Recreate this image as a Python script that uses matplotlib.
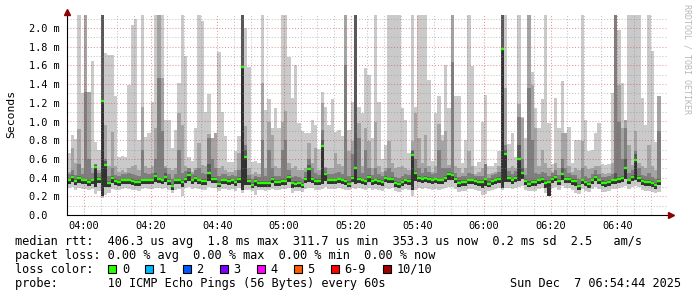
import matplotlib
matplotlib.use("Agg")
import matplotlib.pyplot as plt
from matplotlib.patches import Rectangle
import numpy as np

# smokeping: 10 pings every 60s, one column per minute starting 03:55
# (graph window 03:54:44 .. 06:54:44), values in ms
first_col = "03:55"
win_start = (3, 54, 44)

median_ms = [
    0.37, 0.41, 0.36, 0.40, 0.37, 0.37, 0.35, 0.37, 0.51, 0.39, 1.22, 0.53, 0.34, 0.40, 0.36, 0.35, 0.37, 0.37, 0.37, 0.36,
    0.35, 0.35, 0.37, 0.37, 0.37, 0.37, 0.42, 0.38, 0.37, 0.41, 0.36, 0.31, 0.37, 0.37, 0.35, 0.39, 0.43, 0.37, 0.40, 0.37,
    0.36, 0.36, 0.45, 0.385, 0.385, 0.335, 0.37, 0.37, 0.36, 0.37, 0.35, 0.385, 1.58, 0.62, 0.36, 0.32, 0.36, 0.34, 0.34, 0.34,
    0.34, 0.385, 0.35, 0.35, 0.36, 0.36, 0.41, 0.34, 0.335, 0.34, 0.32, 0.39, 0.49, 0.385, 0.36, 0.36, 0.74, 0.44, 0.37, 0.37,
    0.37, 0.38, 0.37, 0.36, 0.335, 0.40, 0.50, 0.39, 0.37, 0.36, 0.41, 0.36, 0.37, 0.36, 0.35, 0.40, 0.38, 0.39, 0.34, 0.33,
    0.35, 0.37, 0.36, 0.645, 0.445, 0.40, 0.38, 0.40, 0.39, 0.37, 0.38, 0.37, 0.37, 0.40, 0.44, 0.43, 0.385, 0.345, 0.35, 0.35,
    0.37, 0.37, 0.36, 0.35, 0.35, 0.38, 0.335, 0.36, 0.37, 0.39, 1.775, 0.655, 0.40, 0.37, 0.40, 0.60, 0.45, 0.36, 0.335, 0.35,
    0.35, 0.37, 0.39, 0.345, 0.35, 0.385, 0.41, 0.36, 0.44, 0.385, 0.385, 0.36, 0.36, 0.31, 0.37, 0.35, 0.33, 0.37, 0.41, 0.37,
    0.345, 0.34, 0.35, 0.37, 0.375, 0.39, 0.40, 0.50, 0.37, 0.41, 0.585, 0.40, 0.36, 0.35, 0.35, 0.34, 0.32, 0.36,
]

# smoke: highest ping (lightest band)
top_ms = [
    0.66, 0.86, 0.81, 2.14, 1.31, 2.14, 1.32, 1.65, 0.78, 0.70, 2.14, 1.73, 1.71, 1.71, 1.27, 0.62, 0.63, 0.62, 1.39, 2.03,
    2.10, 0.80, 2.14, 0.83, 0.88, 1.21, 2.14, 2.14, 2.14, 1.02, 1.02, 0.72, 0.91, 1.41, 2.14, 1.70, 0.62, 0.58, 0.93, 2.14,
    2.08, 1.10, 1.29, 0.82, 0.88, 1.74, 1.10, 0.84, 0.57, 0.57, 0.68, 0.84, 2.14, 2.00, 1.58, 0.57, 0.58, 0.56, 2.14, 1.12,
    1.24, 0.93, 1.14, 0.93, 2.14, 2.14, 1.69, 1.25, 1.60, 0.98, 0.90, 0.88, 0.88, 1.02, 0.96, 0.71, 1.32, 1.16, 0.96, 1.24,
    0.89, 0.91, 0.84, 2.14, 0.91, 1.21, 2.14, 1.16, 1.09, 1.57, 1.50, 0.82, 2.14, 1.21, 0.60, 0.75, 2.14, 2.14, 2.14, 2.14,
    1.14, 1.02, 0.66, 2.14, 1.16, 2.14, 2.14, 2.14, 1.44, 0.58, 1.09, 1.27, 0.86, 1.60, 1.14, 2.14, 1.27, 1.27, 0.56, 0.80,
    2.14, 1.59, 0.52, 0.57, 1.00, 1.28, 0.52, 0.52, 0.56, 0.68, 2.14, 2.14, 0.76, 0.88, 0.62, 2.14, 1.05, 0.82, 2.14, 1.53,
    1.14, 0.93, 1.24, 2.14, 0.98, 0.55, 1.25, 0.93, 1.43, 0.88, 0.94, 0.56, 0.80, 0.80, 2.14, 1.02, 0.68, 0.70, 0.88, 0.98,
    0.55, 0.53, 0.55, 1.30, 2.14, 1.98, 1.41, 1.02, 2.14, 2.14, 2.14, 2.14, 1.25, 0.96, 2.14, 1.75, 0.78, 1.27,
]

mid_ms = [
    0.46, 0.72, 0.56, 0.92, 0.50, 2.14, 1.32, 0.50, 0.50, 0.48, 2.14, 0.96, 0.52, 0.89, 0.52, 0.46, 0.48, 0.46, 0.50, 0.52,
    0.54, 0.48, 1.16, 0.52, 0.50, 0.52, 0.93, 2.14, 1.46, 0.52, 0.50, 0.48, 0.50, 1.09, 0.96, 0.52, 0.49, 0.46, 0.50, 0.77,
    0.54, 0.52, 0.87, 0.82, 0.88, 0.50, 0.52, 0.48, 0.46, 0.46, 0.48, 0.66, 2.14, 0.95, 0.50, 0.44, 0.46, 0.44, 1.41, 0.50,
    0.99, 0.86, 0.52, 0.50, 0.99, 1.11, 0.56, 0.50, 0.52, 0.48, 0.48, 0.50, 0.77, 0.56, 0.72, 0.48, 1.20, 0.51, 0.50, 0.50,
    0.66, 0.55, 0.52, 2.14, 0.68, 0.79, 2.14, 0.98, 0.52, 0.93, 0.79, 0.50, 1.00, 0.52, 0.46, 0.50, 0.79, 0.56, 0.50, 0.51,
    0.52, 0.50, 0.48, 0.79, 1.09, 0.82, 0.56, 0.86, 0.52, 0.46, 0.52, 0.97, 0.79, 0.90, 0.54, 2.14, 0.52, 0.50, 0.45, 0.50,
    0.68, 0.52, 0.44, 0.46, 0.50, 0.54, 0.44, 0.45, 0.46, 0.52, 2.14, 1.36, 0.50, 0.52, 0.50, 1.19, 1.04, 0.50, 2.14, 1.39,
    0.93, 0.52, 0.70, 0.56, 0.50, 0.46, 0.56, 0.50, 0.88, 0.88, 0.52, 0.46, 0.50, 0.48, 0.79, 0.52, 0.49, 0.50, 0.52, 0.52,
    0.45, 0.44, 0.45, 0.56, 2.14, 1.39, 0.93, 1.02, 0.75, 0.54, 0.90, 0.56, 0.52, 0.50, 0.75, 0.52, 0.48, 1.27,
]

dark_ms = [
    0.44, 0.48, 0.43, 0.55, 0.44, 1.32, 0.60, 0.45, 0.55, 0.45, 2.14, 0.60, 0.42, 0.50, 0.43, 0.42, 0.44, 0.44, 0.45, 0.44,
    0.43, 0.42, 0.70, 0.45, 0.44, 0.45, 0.60, 1.46, 0.90, 0.50, 0.44, 0.38, 0.44, 0.70, 0.45, 0.47, 0.50, 0.44, 0.48, 0.50,
    0.45, 0.44, 0.82, 0.60, 0.50, 0.42, 0.44, 0.44, 0.42, 0.43, 0.42, 0.48, 2.14, 0.75, 0.43, 0.39, 0.42, 0.41, 0.80, 0.42,
    0.70, 0.50, 0.42, 0.42, 0.70, 0.80, 0.48, 0.41, 0.42, 0.41, 0.39, 0.46, 0.60, 0.50, 0.45, 0.43, 0.91, 0.50, 0.44, 0.44,
    0.45, 0.46, 0.44, 1.60, 0.42, 0.65, 2.14, 0.82, 0.45, 0.70, 0.50, 0.43, 0.50, 0.44, 0.42, 0.47, 0.50, 0.46, 0.41, 0.40,
    0.42, 0.44, 0.43, 0.70, 0.60, 0.50, 0.45, 0.50, 0.46, 0.44, 0.45, 0.70, 0.50, 0.50, 0.50, 1.64, 0.45, 0.41, 0.42, 0.42,
    0.45, 0.44, 0.42, 0.42, 0.42, 0.55, 0.40, 0.43, 0.44, 0.46, 2.14, 0.75, 0.47, 0.44, 0.47, 1.05, 0.60, 0.43, 1.36, 0.80,
    0.45, 0.44, 0.46, 0.45, 0.42, 0.45, 0.48, 0.43, 0.60, 0.50, 0.45, 0.43, 0.43, 0.38, 0.50, 0.42, 0.40, 0.44, 0.48, 0.44,
    0.41, 0.41, 0.42, 0.44, 2.14, 1.00, 0.60, 0.93, 0.45, 0.48, 0.68, 0.50, 0.43, 0.42, 0.45, 0.41, 0.39, 0.90,
]

deep_ms = [
    0.39, 0.43, 0.38, 0.42, 0.39, 0.39, 0.37, 0.39, 0.53, 0.41, 2.14, 0.58, 0.36, 0.42, 0.38, 0.37, 0.39, 0.39, 0.39, 0.38,
    0.37, 0.37, 0.39, 0.39, 0.39, 0.39, 0.45, 0.40, 0.39, 0.45, 0.38, 0.33, 0.39, 0.39, 0.37, 0.41, 0.46, 0.39, 0.42, 0.39,
    0.38, 0.38, 0.55, 0.41, 0.41, 0.36, 0.39, 0.39, 0.38, 0.39, 0.37, 0.41, 2.14, 0.70, 0.38, 0.34, 0.38, 0.36, 0.36, 0.36,
    0.36, 0.41, 0.37, 0.37, 0.38, 0.38, 0.43, 0.36, 0.36, 0.36, 0.34, 0.41, 0.53, 0.41, 0.38, 0.38, 0.80, 0.46, 0.39, 0.39,
    0.39, 0.40, 0.39, 0.38, 0.36, 0.42, 2.14, 0.41, 0.39, 0.38, 0.43, 0.38, 0.39, 0.38, 0.37, 0.42, 0.40, 0.41, 0.36, 0.35,
    0.37, 0.39, 0.38, 0.68, 0.47, 0.42, 0.40, 0.42, 0.41, 0.39, 0.40, 0.39, 0.39, 0.42, 0.46, 0.45, 0.41, 0.37, 0.37, 0.37,
    0.39, 0.39, 0.38, 0.37, 0.37, 0.40, 0.36, 0.38, 0.39, 0.41, 2.14, 0.70, 0.42, 0.39, 0.42, 0.75, 0.50, 0.38, 0.36, 0.37,
    0.37, 0.39, 0.41, 0.37, 0.37, 0.41, 0.43, 0.38, 0.50, 0.41, 0.41, 0.38, 0.38, 0.33, 0.39, 0.37, 0.35, 0.39, 0.43, 0.39,
    0.37, 0.36, 0.37, 0.39, 0.45, 0.41, 0.42, 0.60, 0.39, 0.43, 0.65, 0.42, 0.38, 0.37, 0.37, 0.36, 0.34, 0.38,
]

low_in_ms = [
    0.33, 0.35, 0.32, 0.34, 0.33, 0.33, 0.31, 0.33, 0.30, 0.34, 0.20, 0.30, 0.30, 0.34, 0.32, 0.31, 0.33, 0.33, 0.33, 0.32,
    0.31, 0.31, 0.33, 0.33, 0.33, 0.33, 0.35, 0.34, 0.33, 0.35, 0.32, 0.27, 0.33, 0.33, 0.30, 0.34, 0.36, 0.33, 0.35, 0.33,
    0.32, 0.32, 0.36, 0.34, 0.34, 0.30, 0.33, 0.33, 0.32, 0.33, 0.31, 0.34, 0.27, 0.32, 0.32, 0.29, 0.31, 0.30, 0.30, 0.30,
    0.30, 0.34, 0.31, 0.31, 0.32, 0.32, 0.35, 0.29, 0.30, 0.30, 0.29, 0.34, 0.35, 0.34, 0.32, 0.32, 0.33, 0.36, 0.33, 0.33,
    0.33, 0.34, 0.33, 0.32, 0.30, 0.35, 0.33, 0.34, 0.33, 0.32, 0.35, 0.32, 0.33, 0.32, 0.31, 0.35, 0.34, 0.34, 0.30, 0.29,
    0.31, 0.33, 0.32, 0.27, 0.36, 0.35, 0.34, 0.35, 0.34, 0.33, 0.34, 0.33, 0.33, 0.35, 0.37, 0.37, 0.34, 0.30, 0.31, 0.31,
    0.33, 0.33, 0.32, 0.31, 0.29, 0.31, 0.30, 0.32, 0.33, 0.34, 0.29, 0.35, 0.35, 0.33, 0.35, 0.36, 0.38, 0.32, 0.30, 0.31,
    0.31, 0.33, 0.34, 0.29, 0.20, 0.34, 0.36, 0.32, 0.37, 0.34, 0.34, 0.32, 0.31, 0.27, 0.33, 0.31, 0.29, 0.33, 0.36, 0.33,
    0.31, 0.30, 0.31, 0.33, 0.33, 0.34, 0.35, 0.38, 0.33, 0.36, 0.37, 0.35, 0.32, 0.31, 0.31, 0.30, 0.28, 0.32,
]

# lowest ping
low_ms = [
    0.29, 0.30, 0.27, 0.29, 0.28, 0.28, 0.27, 0.28, 0.22, 0.26, 0.18, 0.21, 0.24, 0.28, 0.27, 0.27, 0.28, 0.29, 0.28, 0.27,
    0.27, 0.26, 0.28, 0.29, 0.28, 0.28, 0.29, 0.29, 0.28, 0.29, 0.27, 0.24, 0.27, 0.28, 0.20, 0.29, 0.30, 0.28, 0.29, 0.28,
    0.27, 0.27, 0.30, 0.29, 0.29, 0.26, 0.28, 0.28, 0.27, 0.28, 0.26, 0.29, 0.24, 0.27, 0.27, 0.26, 0.21, 0.27, 0.27, 0.26,
    0.27, 0.28, 0.27, 0.27, 0.28, 0.28, 0.29, 0.23, 0.26, 0.26, 0.25, 0.28, 0.29, 0.29, 0.27, 0.27, 0.28, 0.30, 0.28, 0.28,
    0.28, 0.29, 0.28, 0.27, 0.27, 0.29, 0.28, 0.29, 0.28, 0.27, 0.29, 0.27, 0.28, 0.27, 0.26, 0.29, 0.28, 0.29, 0.26, 0.25,
    0.27, 0.28, 0.27, 0.20, 0.27, 0.29, 0.28, 0.29, 0.28, 0.27, 0.28, 0.27, 0.28, 0.29, 0.30, 0.30, 0.28, 0.25, 0.26, 0.26,
    0.28, 0.28, 0.27, 0.26, 0.21, 0.22, 0.26, 0.27, 0.28, 0.29, 0.27, 0.29, 0.29, 0.28, 0.29, 0.30, 0.31, 0.27, 0.26, 0.26,
    0.26, 0.28, 0.29, 0.24, 0.20, 0.29, 0.30, 0.27, 0.31, 0.29, 0.29, 0.27, 0.23, 0.22, 0.28, 0.26, 0.25, 0.28, 0.30, 0.28,
    0.25, 0.25, 0.26, 0.28, 0.28, 0.29, 0.30, 0.31, 0.28, 0.30, 0.31, 0.30, 0.27, 0.26, 0.26, 0.25, 0.23, 0.25,
]

x_labels = ["04:00", "04:20", "04:40", "05:00", "05:20", "05:40", "06:00", "06:20", "06:40"]
y_ticks = [0.0, 0.2, 0.4, 0.6, 0.8, 1.0, 1.2, 1.4, 1.6, 1.8, 2.0]
y_labels = ["0.0  ", "0.2 m", "0.4 m", "0.6 m", "0.8 m", "1.0 m", "1.2 m", "1.4 m", "1.6 m", "1.8 m", "2.0 m"]

loss_labels = ["0", "1", "2", "3", "4", "5", "6-9", "10/10"]
loss_colors = ["#26ff00", "#00b8ff", "#0059ff", "#7e00ff", "#ff00ff", "#ff5e00", "#ff0000", "#a10000"]

legend_lines = [
    "median rtt:  406.3 us avg  1.8 ms max  311.7 us min  353.3 us now  0.2 ms sd  2.5   am/s",
    "packet loss: 0.00 % avg  0.00 % max  0.00 % min  0.00 % now",
    "loss color:",
    "probe:       10 ICMP Echo Pings (56 Bytes) every 60s",
]
stamp = "Sun Dec  7 06:54:44 2025"

n = len(median_ms)
for arr in (top_ms, mid_ms, dark_ms, deep_ms, low_in_ms, low_ms):
    if len(arr) != n:
        raise ValueError("length mismatch %d vs %d" % (len(arr), n))


def minutes(hhmm, sec=0):
    h, m = hhmm.split(":")
    t = int(h) * 60 + int(m) + sec / 60.0
    return t - (win_start[0] * 60 + win_start[1] + win_start[2] / 60.0)


W, H, DPI = 697, 297, 100
MONO = "DejaVu Sans Mono"
FS = 8.55      # legend text
FS_TICK = 7.4  # axis labels

fig = plt.figure(figsize=(W / DPI, H / DPI), dpi=DPI)
fig.patch.set_facecolor("white")

# plot area in pixels: 600 px for 180 min, 93.5 px per ms
px_min = 600 / 180.0
px_ms = 93.5
left_px, bottom_px, top_px, right_px = 66.5, 215.0, 12.0, 671.0
ax = fig.add_axes([left_px / W, 1 - bottom_px / H, (right_px - left_px) / W, (bottom_px - top_px) / H])
ax.set_xlim(0, (right_px - left_px) / px_min)
ax.set_ylim(0, (bottom_px - top_px) / px_ms)
ax.set_facecolor("white")

xs = minutes(first_col) + np.arange(n)
xe = np.append(xs, xs[-1] + 1)


def ext(a):
    a = np.asarray(a, dtype=float)
    return np.append(a, a[-1])


layers = [
    (low_ms, top_ms, "#cacaca"),
    (low_in_ms, mid_ms, "#a4a4a4"),
    (low_in_ms, dark_ms, "#7e7e7e"),
    (low_in_ms, deep_ms, "#585858"),
    (low_in_ms, median_ms, "#323232"),
]
for lo, hi, c in layers:
    ax.fill_between(xe, ext(lo), ext(hi), step="post", color=c, lw=0, antialiased=False, zorder=1)

# grid
xmax_grid = 180
ymax_grid = 2.15
minor_c = (0.55, 0.55, 0.55, 0.5)
major_c = (0.82, 0.2, 0.2, 0.5)
dots = (0, (1, 1.8))
for i in range(1, 22):
    yv = i / 10.0
    c = major_c if i % 2 == 0 else minor_c
    ax.hlines(yv, 0, xmax_grid, colors=[c], lw=0.75, linestyles=[dots], zorder=2)
for j in range(0, 36):
    xv = minutes(first_col) + 5 * j
    c = major_c if j % 4 == 1 else minor_c
    ax.vlines(xv, 0, ymax_grid, colors=[c], lw=0.75, linestyles=[dots], zorder=2)

# median rtt, coloured by loss (all 0 here)
ax.hlines(median_ms, xs, xs + 1, colors=loss_colors[0], lw=1.7, zorder=3)

for s in ["top", "right"]:
    ax.spines[s].set_visible(False)
for s in ["left", "bottom"]:
    ax.spines[s].set_color("black")
    ax.spines[s].set_linewidth(0.8)
    ax.spines[s].set_zorder(4)

ax.plot([0], [ax.get_ylim()[1]], marker="^", ms=5, color="#8b0000", clip_on=False, zorder=5)
ax.plot([ax.get_xlim()[1]], [0], marker=">", ms=5, color="#8b0000", clip_on=False, zorder=5)

ax.set_xticks([minutes(t) for t in x_labels])
ax.set_xticklabels(x_labels, family=MONO, fontsize=FS_TICK)
ax.set_yticks(y_ticks)
ax.set_yticklabels(y_labels, family=MONO, fontsize=FS_TICK)
ax.tick_params(axis="x", length=0, pad=4)
ax.tick_params(axis="y", length=0, pad=5)

fig.text(11.5 / W, 1 - 113.5 / H, "Seconds", rotation=90, ha="center", va="center",
         family=MONO, fontsize=8.2)
fig.text(687.5 / W, 1 - 59.5 / H, "RRDTOOL / TOBI OETIKER", rotation=270, ha="center", va="center",
         family=MONO, fontsize=6.0, color="#b8b8b8")

# legend
text_x = 15.2
baselines = [245, 259, 273, 287]
for line, yb in zip(legend_lines, baselines):
    fig.text(text_x / W, 1 - yb / H, line, va="baseline", ha="left", family=MONO, fontsize=FS)
fig.text(681 / W, 1 - baselines[3] / H, stamp, va="baseline", ha="right", family=MONO, fontsize=FS)

pitch = 7.15
bx = 108.3
for lab, col in zip(loss_labels, loss_colors):
    fig.add_artist(Rectangle((bx / W, 1 - 273.3 / H), 8 / W, 8 / H, transform=fig.transFigure,
                             facecolor=col, edgecolor="black", lw=0.8))
    fig.text((bx + 13.5) / W, 1 - baselines[2] / H, lab, va="baseline", ha="left", family=MONO, fontsize=FS)
    bx += 13.5 + len(lab) * pitch + 16.5

fig.savefig("out.png", dpi=DPI)
